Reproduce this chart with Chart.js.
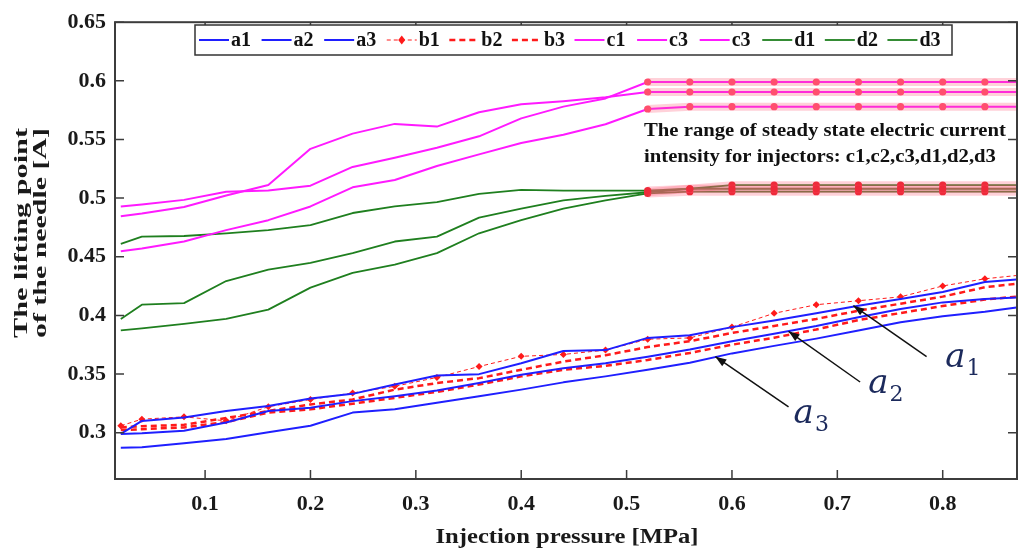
<!DOCTYPE html>
<html><head><meta charset="utf-8">
<script src="https://cdn.jsdelivr.net/npm/chart.js@4.4.1/dist/chart.umd.min.js"></script>
<style>html,body{margin:0;padding:0;background:#fff;}#wrap{width:1021px;height:549px;}</style>
</head><body><div id="wrap"><canvas id="c" width="1021" height="549"></canvas></div>
<script>
// ---- data ----
const pressure = [0.02,0.04,0.08,0.12,0.16,0.20,0.24,0.28,0.32,0.36,0.40,0.44,0.48,0.52,0.56,0.60,0.64,0.68,0.72,0.76,0.80,0.84,0.87];
const a1 = [0.299,0.310,0.313,0.3185,0.3227,0.3292,0.3331,0.341,0.3488,0.3499,0.3592,0.3696,0.3704,0.3808,0.383,0.390,0.3956,0.4018,0.4083,0.4139,0.420,0.4285,0.4307];
const a2 = [0.2989,0.2995,0.3017,0.3087,0.3185,0.3213,0.3269,0.3311,0.3359,0.3423,0.3494,0.355,0.3592,0.3648,0.3709,0.378,0.3844,0.3909,0.3984,0.4054,0.4111,0.4139,0.4153];
const a3 = [0.2871,0.2876,0.291,0.2947,0.3003,0.3059,0.3171,0.3199,0.3255,0.3311,0.3367,0.3429,0.348,0.3536,0.3597,0.3676,0.374,0.3802,0.3872,0.3942,0.3993,0.4032,0.4068];
const b1 = [0.3059,0.3115,0.3135,0.3101,0.3221,0.3283,0.3339,0.3395,0.3471,0.3564,0.3651,0.3667,0.3704,0.3797,0.3808,0.390,0.4018,0.4091,0.4125,0.4158,0.4251,0.4312,0.434];
const b2 = [0.3045,0.3055,0.3067,0.3125,0.3185,0.3241,0.3283,0.3367,0.3423,0.3465,0.3536,0.3606,0.366,0.373,0.378,0.385,0.391,0.397,0.404,0.410,0.416,0.424,0.427];
const b3 = [0.3022,0.303,0.3045,0.309,0.3171,0.3199,0.3247,0.3297,0.3348,0.341,0.348,0.3536,0.357,0.362,0.368,0.375,0.381,0.388,0.396,0.402,0.408,0.4135,0.416];
const c1 = [0.4929,0.4945,0.4985,0.5055,0.5064,0.5106,0.5266,0.5345,0.5429,0.5527,0.568,0.578,0.585,0.599,0.599,0.599,0.599,0.599,0.599,0.599,0.599,0.599,0.599];
const c2 = [0.4845,0.4868,0.4924,0.5022,0.5112,0.542,0.555,0.5633,0.561,0.5732,0.580,0.5827,0.586,0.5905,0.5905,0.5905,0.5905,0.5905,0.5905,0.5905,0.5905,0.5905,0.5905];
const c3 = [0.4546,0.457,0.463,0.4727,0.4812,0.4929,0.5092,0.5154,0.5274,0.5373,0.547,0.554,0.563,0.576,0.578,0.578,0.578,0.578,0.578,0.578,0.578,0.578,0.578];
const d1 = [0.461,0.4672,0.4677,0.470,0.4727,0.4769,0.4873,0.4929,0.4966,0.5036,0.507,0.5064,0.5064,0.5064,0.508,0.508,0.508,0.508,0.508,0.508,0.508,0.508,0.508];
const d2 = [0.397,0.4091,0.4105,0.4293,0.4391,0.4447,0.4531,0.463,0.4672,0.4834,0.491,0.498,0.502,0.505,0.508,0.511,0.511,0.511,0.511,0.511,0.511,0.511,0.511];
const d3 = [0.3872,0.389,0.3928,0.397,0.4049,0.4237,0.4363,0.4433,0.4531,0.47,0.4812,0.491,0.498,0.504,0.5055,0.5055,0.5055,0.5055,0.5055,0.5055,0.5055,0.5055,0.5055];
const legendLabels = ['a1','a2','a3','b1','b2','b3','c1','c3','c3','d1','d2','d3'];
const xTicks = [0.1,0.2,0.3,0.4,0.5,0.6,0.7,0.8];
const xTickLabels = ['0.1','0.2','0.3','0.4','0.5','0.6','0.7','0.8'];
const yTicks = [0.3,0.35,0.4,0.45,0.5,0.55,0.6,0.65];
const yTickLabels = ['0.3','0.35','0.4','0.45','0.5','0.55','0.6','0.65'];
const steadyFrom = 13; // index of 0.52 MPa, start of steady state
const xTitle = 'Injection pressure [MPa]';
const yTitle = ['The lifting point','of the needle [A]'];
const noteLines = ['The range of steady state electric current','intensity for injectors: c1,c2,c3,d1,d2,d3'];

// ---- styles ----
const BLUE='#1f1fff', RED='#ff1a1a', PINK='#ff1aff', GREEN='#1f7f1f';
const serif='"Liberation Serif","Times New Roman",serif';
const pts = arr => pressure.map((x,i)=>({x, y:arr[i]}));
const steadyPts = arr => pressure.slice(steadyFrom).map((x,i)=>({x, y:arr[steadyFrom+i]}));
const lastHidden = r => ctx => ctx.dataIndex === ctx.dataset.data.length-1 ? 0 : r;

const series = [
  {label:'a1', data:pts(a1), borderColor:BLUE, borderWidth:2},
  {label:'a2', data:pts(a2), borderColor:BLUE, borderWidth:2},
  {label:'a3', data:pts(a3), borderColor:BLUE, borderWidth:2},
  {label:'b1', data:pts(b1), borderColor:RED, borderWidth:1, borderDash:[4,3], pointStyle:'rectRot', pointRadius:lastHidden(3.5), pointBackgroundColor:RED, pointBorderColor:RED, pointBorderWidth:0},
  {label:'b2', data:pts(b2), borderColor:RED, borderWidth:2.5, borderDash:[6,4]},
  {label:'b3', data:pts(b3), borderColor:RED, borderWidth:2.5, borderDash:[6,4]},
  {label:'c1', data:pts(c1), borderColor:PINK, borderWidth:2},
  {label:'c3', data:pts(c2), borderColor:PINK, borderWidth:2},
  {label:'c3', data:pts(c3), borderColor:PINK, borderWidth:2},
  {label:'d1', data:pts(d1), borderColor:GREEN, borderWidth:1.8},
  {label:'d2', data:pts(d2), borderColor:GREEN, borderWidth:1.8},
  {label:'d3', data:pts(d3), borderColor:GREEN, borderWidth:1.8},
];
const glow = (arr, dot) => ({label:'', data:steadyPts(arr), borderColor:'rgba(255,90,120,0.28)', borderWidth:8,
  pointRadius:lastHidden(3.6), pointBackgroundColor:dot, pointBorderWidth:0, pointStyle:'circle'});
const highlights = [glow(c1,'#ff4f6e'),glow(c2,'#ff4f6e'),glow(c3,'#ff4f6e'),glow(d1,'#ee2a3a'),glow(d2,'#ee2a3a'),glow(d3,'#ee2a3a')];
series.forEach(s=>{ s.fill=false; s.tension=0; if(s.pointRadius===undefined) s.pointRadius=0; });

const datasets = highlights.concat(series);

// ---- plugins ----
const framePlugin = {
  id:'frame',
  afterDatasetsDraw(chart){
    const {ctx, chartArea:a, scales:{x,y}} = chart;
    ctx.save();
    ctx.strokeStyle='#3c3c3c'; ctx.lineWidth=2;
    ctx.strokeRect(a.left, a.top, a.right-a.left, a.bottom-a.top);
    ctx.lineWidth=1.5; const L=9;
    ctx.beginPath();
    xTicks.forEach(v=>{const p=x.getPixelForValue(v); ctx.moveTo(p,a.bottom); ctx.lineTo(p,a.bottom-L); ctx.moveTo(p,a.top); ctx.lineTo(p,a.top+L);});
    yTicks.forEach(v=>{const p=y.getPixelForValue(v); ctx.moveTo(a.left,p); ctx.lineTo(a.left+L,p); ctx.moveTo(a.right,p); ctx.lineTo(a.right-L,p);});
    ctx.stroke();
    ctx.restore();
  }
};

function stretchedText(ctx, text, x, y, target){
  const w = ctx.measureText(text).width;
  const s = target ? target / w : 1;
  ctx.save(); ctx.translate(x,y); ctx.scale(s,1); ctx.fillText(text,0,0); ctx.restore();
}

function arrow(ctx, x1,y1,x2,y2){
  ctx.beginPath(); ctx.moveTo(x1,y1); ctx.lineTo(x2,y2); ctx.stroke();
  const ang=Math.atan2(y2-y1,x2-x1), len=11, wid=4;
  ctx.beginPath();
  ctx.moveTo(x2,y2);
  ctx.lineTo(x2-len*Math.cos(ang)+wid*Math.sin(ang), y2-len*Math.sin(ang)-wid*Math.cos(ang));
  ctx.lineTo(x2-len*Math.cos(ang)-wid*Math.sin(ang), y2-len*Math.sin(ang)+wid*Math.cos(ang));
  ctx.closePath(); ctx.fill();
}

const decorPlugin = {
  id:'decor',
  afterDraw(chart){
    const {ctx, chartArea:a, scales:{x,y}} = chart;
    ctx.save();
    // axis titles
    ctx.fillStyle='#1a1a1a';
    ctx.font='bold 22px '+serif; ctx.textAlign='left'; ctx.textBaseline='alphabetic';
    const xw = 263;
    stretchedText(ctx, xTitle, 567 - xw/2, 543, xw);
    ctx.save();
    ctx.translate(0, 233); ctx.rotate(-Math.PI/2);
    ctx.textBaseline='middle';
    ctx.font='bold 18px '+serif;
    [22,41].forEach((cx,i)=>{ const tw=210; stretchedText(ctx, yTitle[i], -tw/2, cx, tw); });
    ctx.restore();

    // legend
    const bx=195, by=25, bw=757, bh=30;
    ctx.fillStyle='#fff'; ctx.fillRect(bx,by,bw,bh);
    ctx.strokeStyle='#333'; ctx.lineWidth=1.5; ctx.strokeRect(bx,by,bw,bh);
    const step=(bw-6)/legendLabels.length;
    ctx.font='bold 20px '+serif; ctx.textBaseline='middle'; ctx.textAlign='left';
    legendLabels.forEach((lab,i)=>{
      const ds=series[i]; const x0=bx+4+i*step, cy=by+bh/2, ll=30;
      ctx.save();
      ctx.strokeStyle=ds.borderColor; ctx.lineWidth=Math.min(ds.borderWidth,2.5);
      if(ds.borderDash) ctx.setLineDash(i===3?[4,3]:[6,4]);
      ctx.beginPath(); ctx.moveTo(x0,cy); ctx.lineTo(x0+ll,cy); ctx.stroke();
      ctx.setLineDash([]);
      if(i===3){ ctx.fillStyle=RED; ctx.beginPath(); const m=x0+ll/2; ctx.moveTo(m,cy-4.5); ctx.lineTo(m+3.5,cy); ctx.lineTo(m,cy+4.5); ctx.lineTo(m-3.5,cy); ctx.closePath(); ctx.fill(); }
      ctx.restore();
      ctx.fillStyle='#111'; ctx.fillText(lab, x0+ll+2, cy+1);
    });

    // steady state note
    ctx.fillStyle='#111'; ctx.font='bold 19px '+serif; ctx.textBaseline='alphabetic';
    stretchedText(ctx, noteLines[0], x.getPixelForValue(0.5165), y.getPixelForValue(0.5527), 362);
    stretchedText(ctx, noteLines[1], x.getPixelForValue(0.5165), y.getPixelForValue(0.5310), 352);

    // arrows and labels
    ctx.lineWidth=1.5;
    const arrows=[
      {tail:[0.7847,0.3648], tip:[0.7152,0.4083], lab:[0.8025,0.3564], sub:'1'},
      {tail:[0.7216,0.3432], tip:[0.6537,0.3864], lab:[0.7294,0.3337], sub:'2'},
      {tail:[0.6537,0.3219], tip:[0.5843,0.3648], lab:[0.6585,0.3084], sub:'3'},
    ];
    arrows.forEach(ar=>{
      ctx.strokeStyle='#111'; ctx.fillStyle='#111';
      arrow(ctx, x.getPixelForValue(ar.tail[0]), y.getPixelForValue(ar.tail[1]), x.getPixelForValue(ar.tip[0]), y.getPixelForValue(ar.tip[1]));
      const lx=x.getPixelForValue(ar.lab[0]), ly=y.getPixelForValue(ar.lab[1]);
      ctx.fillStyle='#1c2a5c';
      ctx.font='italic 34px "DejaVu Serif",serif'; ctx.textAlign='left';
      ctx.fillText('a', lx, ly);
      const w=ctx.measureText('a').width;
      ctx.font='22px "DejaVu Serif",serif';
      ctx.fillText(ar.sub, lx+w+1, ly+8);
    });
    ctx.restore();
  }
};

new Chart(document.getElementById('c'), {
  type:'line',
  data:{datasets},
  options:{
    responsive:false, animation:false, devicePixelRatio:1,
    layout:{padding:{left:0,right:2,top:15,bottom:0}},
    plugins:{legend:{display:false}, tooltip:{enabled:false}},
    elements:{line:{borderJoinStyle:'round'}},
    scales:{
      x:{type:'linear', min:0.0145, max:0.8705,
        afterFit:s=>{s.height=70;},
        afterBuildTicks:s=>{s.ticks=xTicks.map(v=>({value:v}));},
        grid:{display:false, drawTicks:false}, border:{display:false},
        ticks:{callback:(v,i)=>xTickLabels[i], color:'#1a1a1a', padding:12, maxRotation:0, autoSkip:false, font:{family:serif, size:22, weight:'bold'}}},
      y:{type:'linear', min:0.2605, max:0.65,
        afterFit:s=>{s.width=115;},
        afterBuildTicks:s=>{s.ticks=yTicks.map(v=>({value:v}));},
        grid:{display:false, drawTicks:false}, border:{display:false},
        ticks:{callback:(v,i)=>yTickLabels[i], color:'#1a1a1a', padding:9, autoSkip:false, font:{family:serif, size:22, weight:'bold'}}}
    }
  },
  plugins:[framePlugin, decorPlugin]
});
</script></body></html>
